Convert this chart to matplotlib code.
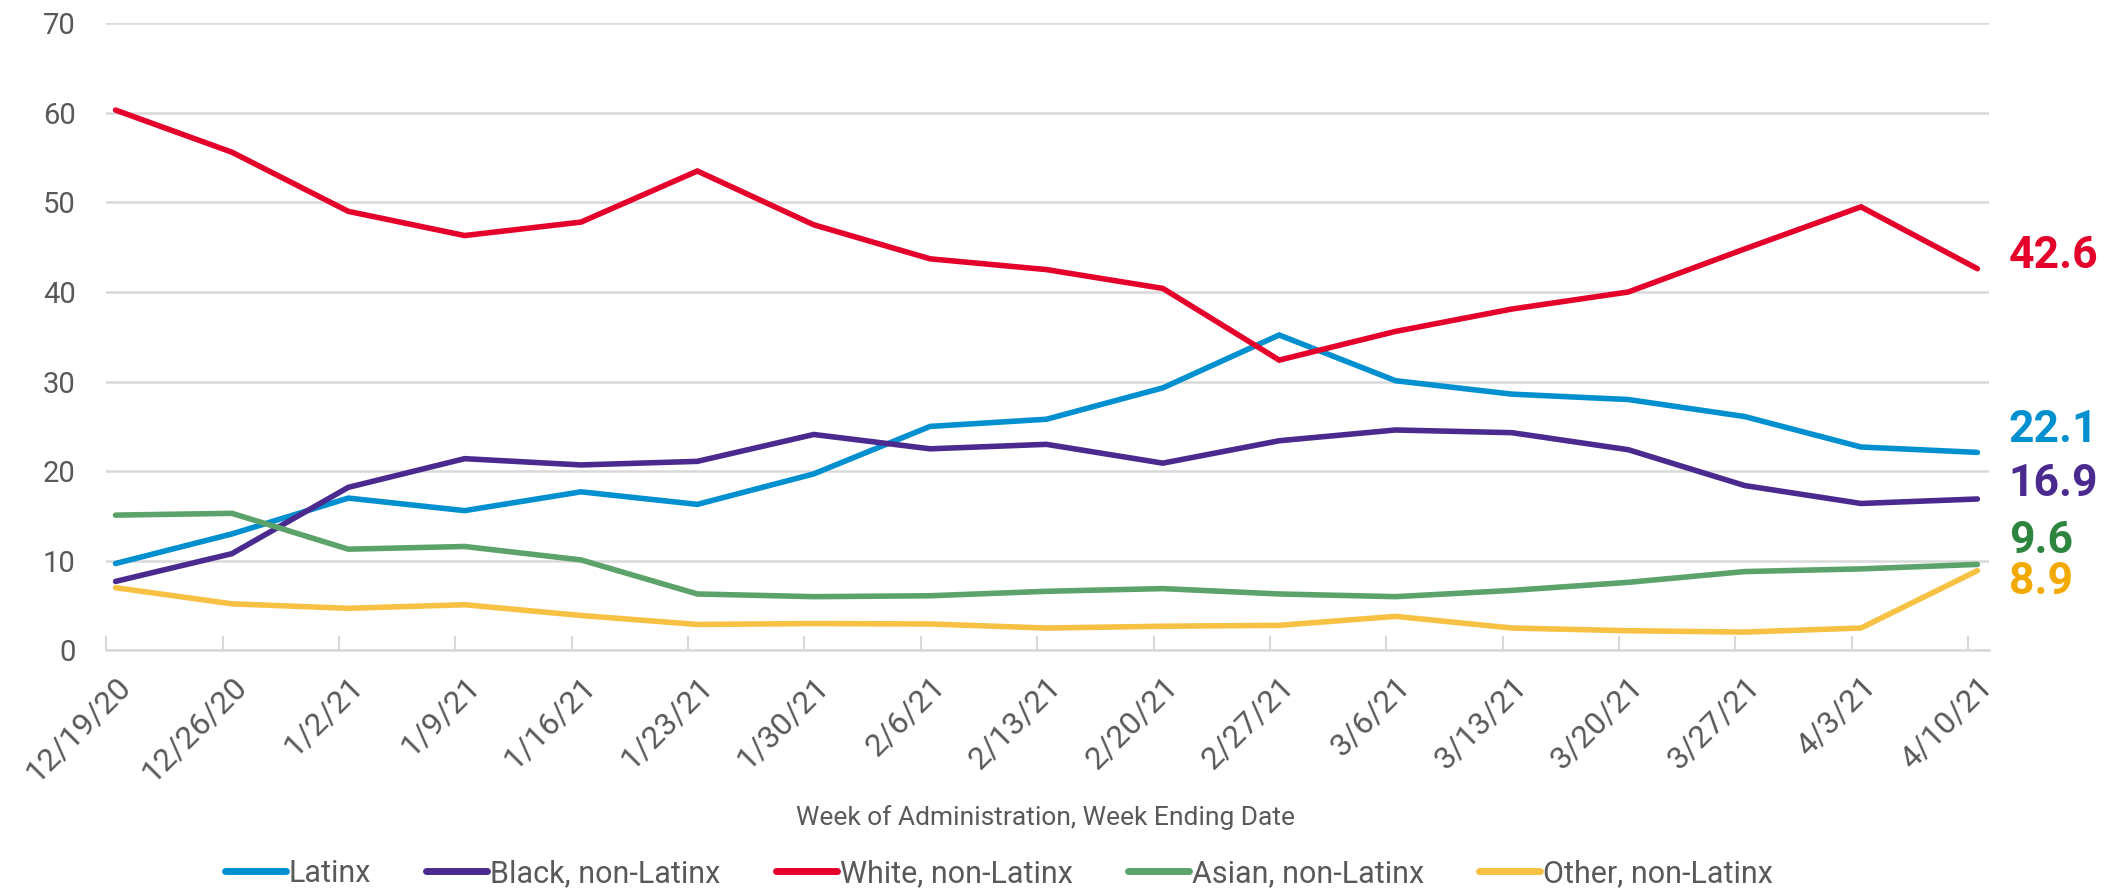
import matplotlib
matplotlib.use("Agg")
import matplotlib.pyplot as plt
import numpy as np

plt.rcParams['font.family'] = ['Roboto', 'DejaVu Sans']

weeks = ["12/19/20", "12/26/20", "1/2/21", "1/9/21", "1/16/21", "1/23/21", "1/30/21",
         "2/6/21", "2/13/21", "2/20/21", "2/27/21", "3/6/21", "3/13/21", "3/20/21",
         "3/27/21", "4/3/21", "4/10/21"]

latinx = [9.7, 13.0, 17.0, 15.6, 17.7, 16.3, 19.7, 25.0, 25.8, 29.3, 35.2, 30.1, 28.6, 28.0, 26.1, 22.7, 22.1]
black = [7.7, 10.8, 18.2, 21.4, 20.7, 21.1, 24.1, 22.5, 23.0, 20.9, 23.4, 24.6, 24.3, 22.4, 18.4, 16.4, 16.9]
white = [60.3, 55.6, 49.0, 46.3, 47.8, 53.5, 47.5, 43.7, 42.5, 40.4, 32.4, 35.6, 38.1, 40.0, 44.8, 49.5, 42.6]
asian = [15.1, 15.3, 11.3, 11.6, 10.1, 6.3, 6.0, 6.1, 6.6, 6.9, 6.3, 6.0, 6.7, 7.6, 8.8, 9.1, 9.6]
other = [7.0, 5.2, 4.7, 5.1, 3.9, 2.9, 3.0, 2.95, 2.5, 2.7, 2.8, 3.8, 2.5, 2.2, 2.05, 2.5, 8.9]

series_names = ["Latinx", "Black, non-Latinx", "White, non-Latinx", "Asian, non-Latinx", "Other, non-Latinx"]
series_vals = [latinx, black, white, asian, other]
line_colors = ["#0090D0", "#4A2A8F", "#E4002B", "#5BA36A", "#F7C144"]
label_colors = ["#0090D0", "#4A2A8F", "#E4002B", "#2E8540", "#F2A900"]
label_dy = [2.5, 1.7, 1.4, 2.6, -1.3]

fig = plt.figure(figsize=(21.25, 8.91), dpi=100)
ax = fig.add_axes([0.05, 0.27, 0.886, 0.704])

x = np.arange(len(weeks))
handles = []
for name, vals, c in zip(series_names, series_vals, line_colors):
    h, = ax.plot(x, vals, color=c, lw=4.0, solid_joinstyle='miter', solid_capstyle='round', label=name)
    handles.append(h)

for vals, c, dy in zip(series_vals, label_colors, label_dy):
    ax.text(len(weeks) - 1 + 0.27, vals[-1] + dy, f"{vals[-1]:.1f}", color=c,
            fontsize=32, fontweight='bold', ha='left', va='center', clip_on=False)

ax.set_ylim(0, 70)
ax.set_xlim(-0.03, len(weeks) - 1 + 0.1)
ax.set_yticks(np.arange(0, 71, 10))
ax.yaxis.grid(True, color="#D9D9D9", lw=1.8)
ax.set_axisbelow(True)
for s in ["top", "right", "left"]:
    ax.spines[s].set_visible(False)
ax.spines["bottom"].set_color("#D9D9D9")
ax.spines["bottom"].set_linewidth(1.8)

ax.set_xticks(x)
ax.set_xticklabels(weeks, rotation=45, ha='right', rotation_mode='anchor')
ax.tick_params(axis='x', length=0, labelsize=23, labelcolor="#595959", pad=15)
ax.set_xticks(x - 0.08, minor=True)
ax.tick_params(axis='x', which='minor', direction='in', length=10, width=1.5, color="#D9D9D9")
ax.tick_params(axis='y', length=0, labelsize=21, labelcolor="#595959", pad=22)

fig.text(0.492, 0.082, "Week of Administration, Week Ending Date", ha='center', va='center',
         fontsize=19, color="#595959")

leg = fig.legend(handles=handles, labels=series_names, loc='center', bbox_to_anchor=(0.47, 0.02),
                 ncol=5, frameon=False, fontsize=22, labelcolor="#595959", handlelength=2.0,
                 handletextpad=0.1, columnspacing=1.8)
for lh in leg.get_lines():
    lh.set_linewidth(5)

fig.savefig("out.png", dpi=100, facecolor="white")
